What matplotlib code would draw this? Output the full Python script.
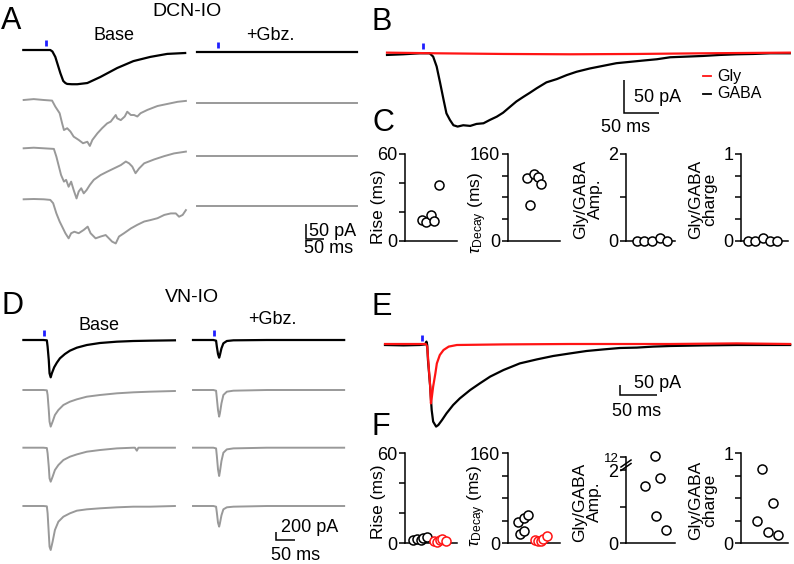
import numpy as np
import matplotlib
matplotlib.use('Agg')
import matplotlib.pyplot as plt

W, H = 794, 564
plt.rcParams['font.family'] = ['Liberation Sans', 'DejaVu Sans']
plt.rcParams['mathtext.fontset'] = 'custom'
plt.rcParams['mathtext.rm'] = 'Liberation Sans'
plt.rcParams['mathtext.it'] = 'Liberation Sans:italic'
plt.rcParams['mathtext.sf'] = 'Liberation Sans'

# ------------------------------------------------------------------ data
# Panel A (DCN-IO), time in ms, current in pA
A_black_t = [0, 47, 75, 81, 89, 96, 103, 111, 117, 122, 135, 150, 178, 214, 261, 306, 353, 400, 450]
A_black_i = [0, 0, 0, -5, -23, -50, -77, -103, -110, -113, -114, -114, -110, -90, -60, -37, -23, -13, -10]
A_g1_t = [1, 29, 57, 80, 89, 101, 108, 113, 122, 131, 140, 154, 166, 178, 185, 192, 206, 219, 233, 243,
          257, 261, 271, 282, 289, 299, 308, 317, 326, 345, 373, 401, 429, 452]
A_g1_i = [0, 3, 0, -2, -22, -44, -78, -100, -94, -105, -122, -133, -144, -139, -153, -133, -111, -94, -78, -72,
          -50, -61, -67, -55, -39, -50, -50, -55, -44, -33, -20, -13, -6, -3]
A_g2_t = [1, 29, 57, 85, 92, 99, 105, 113, 119, 126, 133, 140, 148, 154, 161, 168, 176, 185, 196, 215,
          233, 252, 271, 285, 294, 303, 312, 322, 336, 364, 392, 419, 452]
A_g2_i = [0, 2, 0, -2, -28, -61, -89, -111, -105, -128, -111, -139, -167, -144, -133, -150, -139, -122, -105, -89,
          -78, -67, -56, -44, -50, -61, -83, -67, -50, -37, -26, -17, -11]
A_g3_t = [1, 29, 57, 75, 83, 92, 101, 108, 117, 126, 133, 142, 154, 168, 179, 187, 201, 215, 229, 238,
          247, 257, 266, 280, 299, 317, 336, 354, 373, 392, 410, 424, 433, 443, 452]
A_g3_i = [0, 1, 0, -2, -13, -47, -74, -91, -113, -130, -113, -108, -113, -102, -91, -113, -130, -124, -119, -130,
          -141, -147, -124, -113, -97, -85, -74, -69, -63, -52, -47, -47, -58, -52, -36]
A_gbz_t = [0, 445]
A_gbz_i = [0, 0]
A_stim = [64, 58]

# Panel B (DCN-IO Gly vs GABA)
B_gaba_t = [0, 23, 47, 61, 66, 71, 76, 81, 85, 90, 95, 101, 109, 119, 128, 138, 147, 157, 166, 176, 185,
            195, 204, 214, 228, 243, 257, 271, 290, 309, 328, 347, 366, 386, 405, 429, 452, 476, 500, 524, 548, 576]
B_gaba_i = [-2.5, -1.5, 0, 0, -5, -20, -45, -71, -91, -101, -109, -111, -109, -110, -107, -106, -101, -96, -90,
            -81, -73, -66, -60, -53, -44, -39, -33, -28, -23, -19, -15, -13, -11, -9, -6, -5, -4, -2.5, -1.5, -1, 0, 0]
B_gly_t = [0, 71, 166, 262, 357, 452, 576]
B_gly_i = [1, 0, -1, -1.5, -1, 0, 1]
B_stim = 51

# Panel C scatter values
C_rise = [14.8, 13.2, 17.8, 13.6, 38.5]
C_decay = [116, 124, 117, 104, 67]
C_amp = [0, 0, 0, 0.07, 0]
C_charge = [0, 0, 0.03, 0, 0]

# Panel D (VN-IO)
D_base_t = [1, 53, 62, 64, 67, 69, 72, 75, 81, 88, 96, 109, 122, 140, 166, 200, 244, 287, 330, 395]
D_black_i = [0, 0, -8, -167, -500, -833, -933, -833, -683, -567, -458, -350, -267, -192, -125, -75, -42, -25, -17, -8]
D_g_t = [1, 53, 62, 64, 67, 69, 72, 77, 83, 92, 105, 122, 140, 166, 200, 244, 287, 330, 395]
D_g1_i = [0, 0, -8, -125, -500, -791, -916, -791, -625, -500, -375, -292, -233, -167, -125, -83, -58, -42, -25]
D_g2_t = [1, 53, 62, 64, 67, 69, 72, 77, 83, 92, 105, 122, 140, 166, 200, 244, 287, 291, 296, 300, 330, 395]
D_g2_i = [0, 0, -8, -142, -475, -766, -850, -725, -558, -433, -308, -225, -167, -100, -58, -17, 0, 0, -75, 0, 0, 0]
D_g3_i = [0, 0, -8, -183, -683, -1016, -1100, -891, -600, -392, -267, -183, -117, -83, -58, -33, -17, -17, 0]
D_gbz_t = [0, 53, 60, 62, 65, 68, 70, 74, 79, 88, 105, 192, 393]
D_gbz_black_i = [0, 0, -17, -167, -350, -442, -375, -208, -83, -25, -8, 0, 0]
D_gbz_g1_i = [0, 0, -17, -208, -500, -666, -583, -333, -125, -42, -17, 0, 0]
D_gbz_g2_i = [0, 0, -17, -208, -541, -708, -600, -333, -125, -42, -17, 0, 0]
D_gbz_g3_i = [0, 0, -17, -167, -417, -516, -433, -233, -83, -33, -17, 0, 0]
D_stim = [55, 55]

# Panel E (VN-IO Gly vs GABA)
E_gaba_t = [0, 25, 47, 54, 56, 57, 58, 61, 63, 65, 69, 72, 77, 83, 92, 101, 115, 128, 142, 160, 182, 205, 227,
            250, 272, 295, 317, 340, 362, 385, 430, 475, 547]
E_gaba_i = [0, -2, 0, 3, 17, 0, -75, -208, -325, -383, -408, -400, -375, -342, -300, -267, -225, -192, -158,
            -125, -92, -72, -55, -42, -30, -22, -15, -13, -8, -5, -2, 0, 0]
E_gly_t = [0, 47, 55, 57, 59, 61, 62, 63, 65, 68, 70, 74, 79, 86, 97, 160, 250, 385, 475, 547]
E_gly_i = [5, 5, 5, -8, -108, -208, -292, -267, -208, -142, -92, -50, -25, -8, 0, 3, 5, 5, 8, 5]
E_stim = 50

# Panel F scatter values
F_rise_gaba = [2.2, 2.7, 2.2, 3.3, 3.8]
F_rise_gly = [1.1, 0.7, 1.8, 2.7, 1.1]
F_decay_gaba = [37.3, 16.0, 20.7, 44.4, 50.4]
F_decay_gly = [5.9, 3.0, 3.5, 7.7, 11.9]
F_amp = [1.55, 12.9, 1.77, 0.74, 0.35]
F_charge = [0.82, 0.44, 0.24, 0.12, 0.09]

# ------------------------------------------------------------------ styles / layout
BLACK = '#000000'
GRAY = '#999999'
RED = '#ff1414'
BLUE = '#1f1fff'
LW_K = 1.6
LW_G = 1.4
FS_LET = 22
FS_TITLE = 14
FS_SUB = 13
FS_SCALE = 13
FS_LEG = 11.5
FS_LAB = 12.5
FS_TICK = 13

fig = plt.figure(figsize=(W / 100, H / 100), dpi=100)
fig.patch.set_facecolor('white')


def T(x, y, s, ha='left', va='center', size=11, **kw):
    fig.text(x / W, 1 - y / H, s, ha=ha, va=va, fontsize=size, **kw)


def trace_axes(sc):
    t0, y0, ms, pa = sc
    ax = fig.add_axes([0, 0, 1, 1])
    ax.set_xlim(-t0 * ms, (W - t0) * ms)
    ax.set_ylim(-(H - y0) * pa, y0 * pa)
    ax.axis('off')
    ax.patch.set_alpha(0)
    return ax


def px2data(sc, x, y):
    t0, y0, ms, pa = sc
    return (x - t0) * ms, -(y - y0) * pa


def put(ax, sc, t, i, xp, yp, **kw):
    dt, di = px2data(sc, xp, yp)
    ax.plot(np.asarray(t, float) + dt, np.asarray(i, float) + di, solid_joinstyle='round', **kw)


def stim(ax, sc, ts, xp, yp):
    dt, di = px2data(sc, xp, yp)
    pa = sc[3]
    ax.plot([ts + dt] * 2, [di + 4 * pa, di + 10 * pa], color=BLUE, lw=2.0, solid_capstyle='butt')


def sbar(ax, sc, xp, yp, ms_len, pa_len):
    x, y = px2data(sc, xp, yp)
    ax.plot([x, x, x + ms_len], [y + pa_len, y, y], color='k', lw=1.1,
            solid_joinstyle='miter', solid_capstyle='butt')


# ---------------- Panel A
SA = (23.3, 50.0, 2.78, 3.33)
axA = trace_axes(SA)
put(axA, SA, A_black_t, A_black_i, 23.3, 50.0, color=BLACK, lw=LW_K)
put(axA, SA, A_g1_t, A_g1_i, 23.3, 100.0, color=GRAY, lw=LW_G)
put(axA, SA, A_g2_t, A_g2_i, 23.3, 148.3, color=GRAY, lw=LW_G)
put(axA, SA, A_g3_t, A_g3_i, 23.3, 199.3, color=GRAY, lw=LW_G)
put(axA, SA, A_gbz_t, A_gbz_i, 197.3, 52.3, color=BLACK, lw=LW_K)
for row in (103.3, 156.0, 206.0):
    put(axA, SA, A_gbz_t, A_gbz_i, 197.3, row, color=GRAY, lw=LW_G)
stim(axA, SA, A_stim[0], 23.3, 50.0)
stim(axA, SA, A_stim[1], 197.3, 52.3)
sbar(axA, SA, 306, 239, 50, 50)
T(1, 21, 'A', size=FS_LET)
T(187, 12, 'DCN-IO', ha='center', size=FS_TITLE)
T(114, 35, 'Base', ha='center', size=FS_SUB)
T(270, 35, '+Gbz.', ha='center', size=FS_SUB)
T(309, 231, '50 pA', size=FS_SCALE)
T(304, 249, '50 ms', size=FS_SCALE)

# ---------------- Panel B
SB = (387.0, 53.3, 1.43, 1.515)
axB = trace_axes(SB)
put(axB, SB, B_gaba_t, B_gaba_i, 387.0, 53.3, color=BLACK, lw=LW_K)
put(axB, SB, B_gly_t, B_gly_i, 387.0, 53.3, color=RED, lw=LW_K)
stim(axB, SB, B_stim, 387.0, 53.3)
sbar(axB, SB, 624, 113, 50, 50)
T(372, 22, 'B', size=FS_LET)
T(634, 97, '50 pA', size=FS_SCALE)
T(601, 128, '50 ms', size=FS_SCALE)
fig.add_artist(plt.Line2D([703 / W, 711 / W], [1 - 76 / H] * 2, color=RED, lw=1.3))
fig.add_artist(plt.Line2D([703 / W, 711 / W], [1 - 94 / H] * 2, color=BLACK, lw=1.3))
T(717, 76, 'Gly', size=FS_LEG)
T(717, 94, 'GABA', size=FS_LEG)

# ---------------- Panel D
SD = (23.0, 340.0, 2.6, 25.0)
axD = trace_axes(SD)
put(axD, SD, D_base_t, D_black_i, 23.0, 340.0, color=BLACK, lw=LW_K)
put(axD, SD, D_g_t, D_g1_i, 23.0, 390.0, color=GRAY, lw=LW_G)
put(axD, SD, D_g2_t, D_g2_i, 23.0, 447.7, color=GRAY, lw=LW_G)
put(axD, SD, D_g_t, D_g3_i, 23.0, 506.0, color=GRAY, lw=LW_G)
put(axD, SD, D_gbz_t, D_gbz_black_i, 193.0, 340.0, color=BLACK, lw=LW_K)
put(axD, SD, D_gbz_t, D_gbz_g1_i, 193.0, 390.0, color=GRAY, lw=LW_G)
put(axD, SD, D_gbz_t, D_gbz_g2_i, 193.0, 447.7, color=GRAY, lw=LW_G)
put(axD, SD, D_gbz_t, D_gbz_g3_i, 193.0, 506.0, color=GRAY, lw=LW_G)
stim(axD, SD, D_stim[0], 23.0, 340.0)
stim(axD, SD, D_stim[1], 193.0, 340.0)
sbar(axD, SD, 276, 540, 50, 200)
T(1, 306, 'D', size=FS_LET)
T(192, 298, 'VN-IO', ha='center', size=FS_TITLE)
T(99, 326, 'Base', ha='center', size=FS_SUB)
T(272, 320, '+Gbz.', ha='center', size=FS_SUB)
T(281, 527, '200 pA', size=FS_SCALE)
T(271, 555, '50 ms', size=FS_SCALE)

# ---------------- Panel E
SE = (385.0, 345.0, 1.35, 5.0)
axE = trace_axes(SE)
put(axE, SE, E_gaba_t, E_gaba_i, 385.0, 345.0, color=BLACK, lw=LW_K)
put(axE, SE, E_gly_t, E_gly_i, 385.0, 345.0, color=RED, lw=LW_K)
stim(axE, SE, E_stim, 385.0, 345.0)
sbar(axE, SE, 620, 395, 50, 50)
T(372, 307, 'E', size=FS_LET)
T(634, 383, '50 pA', size=FS_SCALE)
T(612, 412, '50 ms', size=FS_SCALE)


# ---------------- scatter panels
def sax(l, t, r, b):
    ax = fig.add_axes([l / W, 1 - b / H, (r - l) / W, (b - t) / H])
    for s in ('top', 'right'):
        ax.spines[s].set_visible(False)
    for s in ('left', 'bottom'):
        ax.spines[s].set_linewidth(1.1)
    ax.set_xlim(0, 1)
    ax.set_xticks([])
    ax.tick_params(axis='y', length=4.5, width=1.1, pad=1.0, labelsize=FS_TICK)
    ax.patch.set_alpha(0)
    return ax


def dots(ax, x, y, color='k'):
    ax.plot(x, y, 'o', mfc='white', mec=color, ms=6.5, mew=1.1, clip_on=False, zorder=5)


# C
yC_top, yC_bot = 154, 241
c1 = sax(405, yC_top, 457, yC_bot)
c1.set_ylim(0, 60); c1.set_yticks([0, 20, 40, 60]); c1.set_yticklabels(['0', '', '', '60'])
dots(c1, [0.33, 0.40, 0.50, 0.56, 0.65], C_rise)
c2 = sax(508, yC_top, 560, yC_bot)
c2.set_ylim(0, 160); c2.set_yticks([0, 40, 80, 120, 160]); c2.set_yticklabels(['0', '', '', '', '160'])
dots(c2, [0.37, 0.50, 0.58, 0.63, 0.42], C_decay)
c3 = sax(626, yC_top, 675, yC_bot)
c3.set_ylim(0, 2); c3.set_yticks([0, 1, 2]); c3.set_yticklabels(['0', '', '2'])
dots(c3, [0.22, 0.37, 0.53, 0.69, 0.84], C_amp)
c4 = sax(741, yC_top, 788, yC_bot)
c4.set_ylim(0, 1); c4.set_yticks([0, 0.25, 0.5, 0.75, 1]); c4.set_yticklabels(['0', '', '', '', '1'])
dots(c4, [0.15, 0.30, 0.46, 0.62, 0.76], C_charge)
T(372, 123, 'C', size=FS_LET)
T(378, 207, 'Rise (ms)', ha='center', size=FS_LAB, rotation=90)
T(478, 213, r'$\tau_{\mathrm{Decay}}$ (ms)', ha='center', size=FS_LAB, rotation=90)
T(588, 199, 'Gly/GABA\nAmp.', ha='center', size=FS_LAB, rotation=90, linespacing=0.95)
T(703, 199, 'Gly/GABA\ncharge', ha='center', size=FS_LAB, rotation=90, linespacing=0.95)

# F
yF_top, yF_bot = 453, 543
f1 = sax(405, yF_top, 457, yF_bot)
f1.set_ylim(0, 60); f1.set_yticks([0, 20, 40, 60]); f1.set_yticklabels(['0', '', '', '60'])
dots(f1, [0.15, 0.23, 0.31, 0.35, 0.42], F_rise_gaba)
dots(f1, [0.56, 0.62, 0.67, 0.71, 0.79], F_rise_gly, RED)
f2 = sax(508, yF_top, 560, yF_bot)
f2.set_ylim(0, 160); f2.set_yticks([0, 40, 80, 120, 160]); f2.set_yticklabels(['0', '', '', '', '160'])
dots(f2, [0.19, 0.23, 0.31, 0.31, 0.38], F_decay_gaba)
dots(f2, [0.52, 0.58, 0.63, 0.67, 0.75], F_decay_gly, RED)

K_BREAK = 0.035


def fwd(y):
    y = np.asarray(y, float)
    return np.where(y <= 2, y, 2 + (y - 2) * K_BREAK)


def inv(y):
    y = np.asarray(y, float)
    return np.where(y <= 2, y, 2 + (y - 2) / K_BREAK)


f3 = sax(626, 453.6, 675, 543)
f3.set_yscale('function', functions=(fwd, inv))
f3.set_ylim(0, float(inv(2.45)))
f3.spines['left'].set_bounds(0, 12)
f3.set_yticks([0, 1, 2, 12]); f3.set_yticklabels(['0', '', '2', '12'])
f3.get_yticklabels()[3].set_fontsize(9.5)
f3.yaxis.set_minor_locator(matplotlib.ticker.NullLocator())
dots(f3, [0.39, 0.59, 0.69, 0.61, 0.82], F_amp)
# axis-break marks
fig.add_artist(plt.Line2D([621 / W, 631 / W], [1 - 467 / H, 1 - 460 / H], color='k', lw=1.1))
fig.add_artist(plt.Line2D([621 / W, 631 / W], [1 - 470.5 / H, 1 - 463.5 / H], color='k', lw=1.1))

f4 = sax(741, yF_top, 788, yF_bot)
f4.set_ylim(0, 1); f4.set_yticks([0, 0.25, 0.5, 0.75, 1]); f4.set_yticklabels(['0', '', '', '', '1'])
dots(f4, [0.45, 0.68, 0.34, 0.57, 0.79], F_charge)
T(372, 427, 'F', size=FS_LET)
T(378, 502, 'Rise (ms)', ha='center', size=FS_LAB, rotation=90)
T(477, 506, r'$\tau_{\mathrm{Decay}}$ (ms)', ha='center', size=FS_LAB, rotation=90)
T(587, 502, 'Gly/GABA\nAmp.', ha='center', size=FS_LAB, rotation=90, linespacing=0.95)
T(703, 500, 'Gly/GABA\ncharge', ha='center', size=FS_LAB, rotation=90, linespacing=0.95)

fig.savefig('out.png', dpi=100, facecolor='white')
